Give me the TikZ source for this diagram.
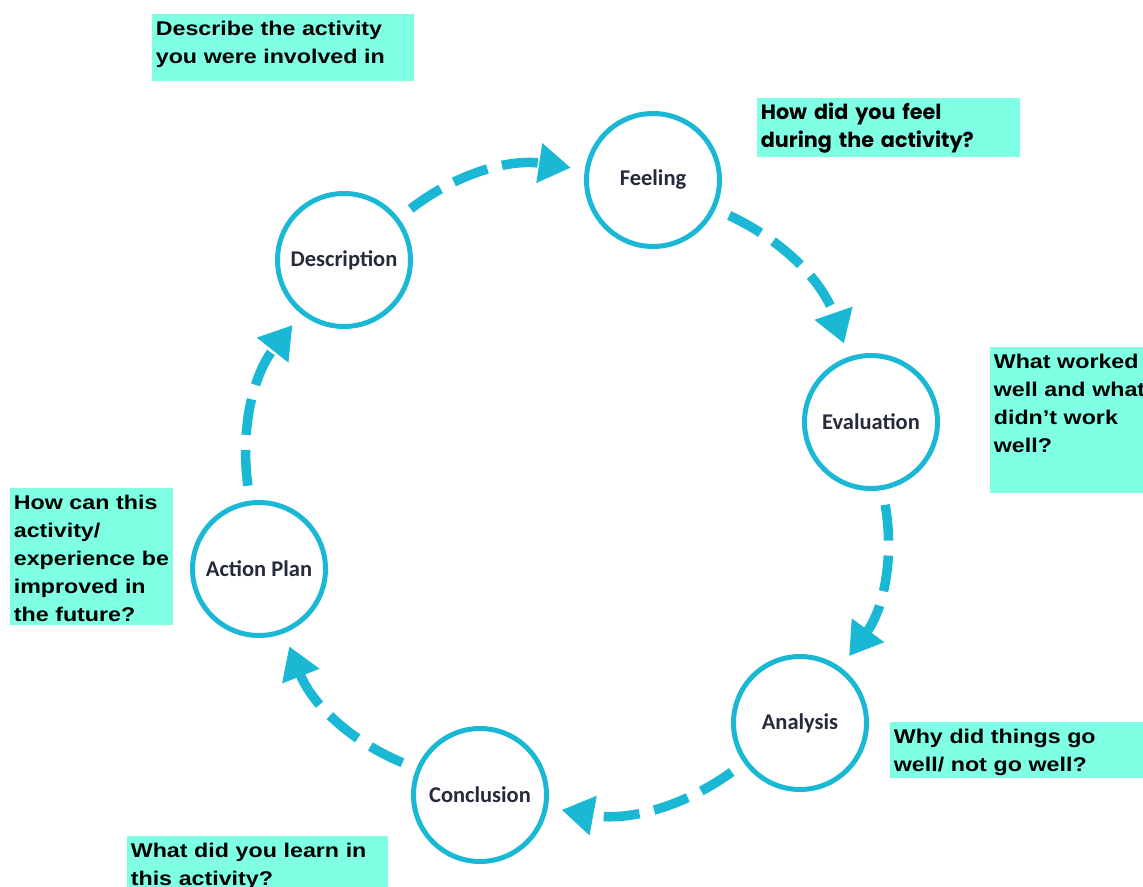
\documentclass[tikz,border=0pt]{standalone}
\usepackage{fontspec}
\setmainfont{Liberation Sans}
\newfontfamily\stagefont{Carlito}
\newfontfamily\notefont{Liberation Sans}[FakeStretch=1.17]
\newfontfamily\roundfont{Poppins}
\usepackage{tikz}
\usetikzlibrary{shapes.geometric, arrows.meta, calc, positioning}
\definecolor{ringblue}{RGB}{27,184,214}
\definecolor{notegreen}{RGB}{127,255,228}
\definecolor{labelgray}{RGB}{38,42,58}
\tikzstyle{stage} = [circle, draw=ringblue, line width=0.1cm, minimum size=2.66cm, inner sep=0pt, text=labelgray, font=\stagefont\bfseries\fontsize{12.8}{14}\selectfont]
\tikzstyle{note} = [anchor=north west, fill=notegreen, align=left, inner ysep=0pt, inner xsep=0.07cm, text height=0.42cm, font=\notefont\bfseries\fontsize{11.3}{15.9}\selectfont]
\tikzstyle{cyclearrow} = [ringblue, line width=0.19cm, dash pattern=on 0.72cm off 0.3cm, -{Triangle[width=0.76cm,length=0.64cm]}, shorten <=0.3cm, shorten >=0.28cm, bend left=23]

\begin{document}
\begin{tikzpicture}
	\useasboundingbox (0,0) rectangle (22.86,17.72);
	% stages of the cycle
	\node (Feeling) [stage] at (13.06,14.12) {Feeling};
	\node (Description) [stage] at (6.88,12.52) {Description};
	\node (Evaluation) [stage] at (17.42,9.28) {Evaluation};
	\node (Analysis) [stage] at (16.00,3.26) {Analysis};
	\node (Conclusion) [stage] at (9.60,1.82) {Conclusion};
	\node (ActionPlan) [stage] at (5.18,6.34) {Action Plan};
	% questions
	\node (DescriptionNote) [note, text width=5.10cm, text depth=0.92cm] at (3.04,17.44) {Describe the activity\\you were involved in};
	\node (FeelingNote) [note, text width=5.12cm, text depth=0.76cm, font=\roundfont\bfseries\fontsize{11.8}{15.9}\selectfont] at (15.14,15.76) {How did you feel\\during the activity?};
	\node (EvaluationNote) [note, text width=3.40cm, text depth=2.50cm] at (19.80,10.78) {What worked\\well and what\\didn’t work\\well?};
	\node (ActionPlanNote) [note, text width=3.12cm, text depth=2.32cm] at (0.20,7.96) {How can this\\activity/\\experience be\\improved in\\the future?};
	\node (AnalysisNote) [note, text width=5.40cm, text depth=0.70cm] at (17.80,3.28) {Why did things go\\well/ not go well?};
	\node (ConclusionNote) [note, text width=5.08cm, text depth=1.00cm] at (2.54,1.00) {What did you learn in\\this activity?};
	% arrows round the cycle
	\draw [cyclearrow] (Description) to (Feeling);
	\draw [cyclearrow] (Feeling) to (Evaluation);
	\draw [cyclearrow] (Evaluation) to (Analysis);
	\draw [cyclearrow] (Analysis) to (Conclusion);
	\draw [cyclearrow] (Conclusion) to (ActionPlan);
	\draw [cyclearrow] (ActionPlan) to (Description);
\end{tikzpicture}
\end{document}
